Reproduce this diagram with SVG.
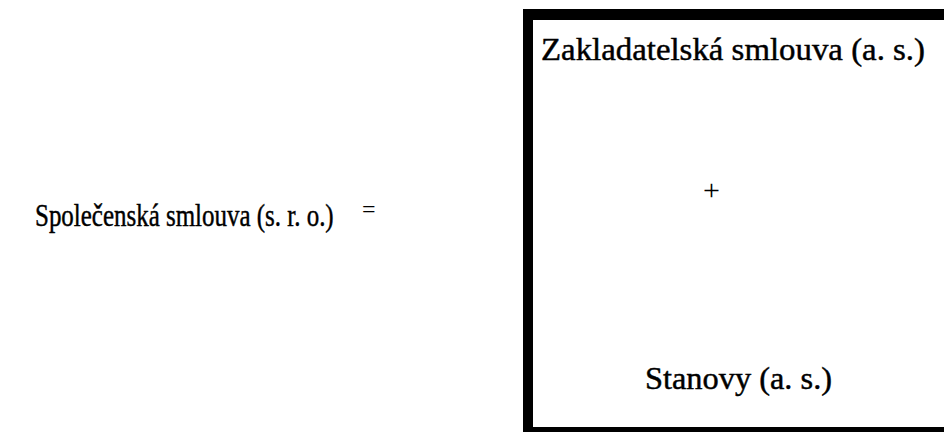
<svg xmlns="http://www.w3.org/2000/svg" width="944" height="432" viewBox="0 0 944 432">
<style>
.t{font-family:"Liberation Serif","Times New Roman",serif;font-size:32px;fill:#000;stroke:#000;stroke-width:0.45;}
.s{font-family:"Liberation Serif","Times New Roman",serif;fill:#000;}
</style>
<rect x="0" y="0" width="944" height="432" fill="#fff"/>
<g id="left">
<text class="t" transform="translate(35,226) scale(0.78,1)" x="0" y="0">Společenská smlouva (s. r. o.)</text>
</g>
<g id="equals">
<text class="s" x="362" y="217" font-size="24">=</text>
</g>
<g id="box">
<path d="M523 9 H950 V440 H523 Z M533 20 V427 H950 V20 Z" fill="#000" fill-rule="evenodd"/>
<text class="t" x="541" y="60" textLength="384" lengthAdjust="spacingAndGlyphs">Zakladatelská smlouva (a. s.)</text>
<text class="s" x="703" y="200" font-size="30">+</text>
<text class="t" x="645" y="389" textLength="187" lengthAdjust="spacingAndGlyphs">Stanovy (a. s.)</text>
</g>
</svg>
